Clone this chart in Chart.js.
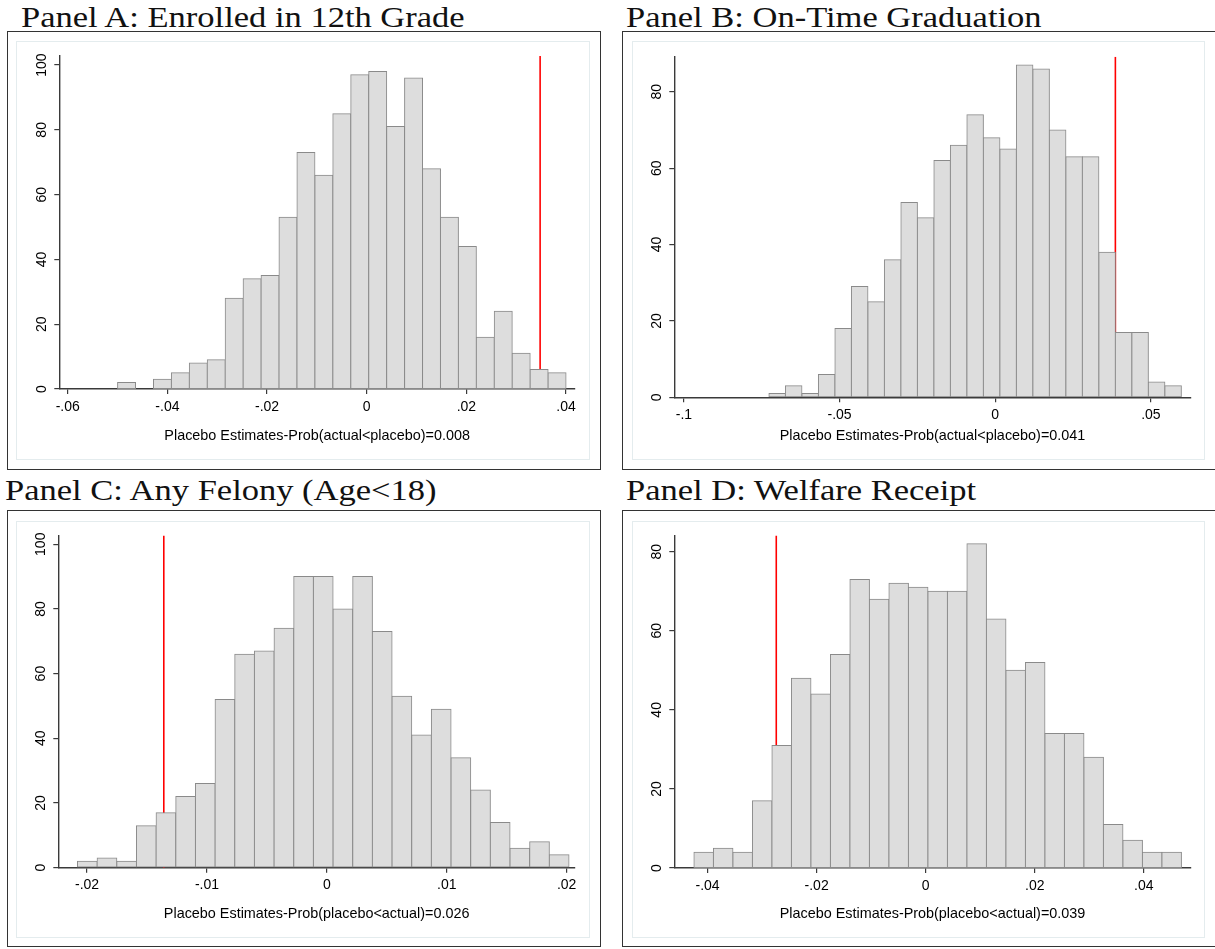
<!DOCTYPE html>
<html>
<head>
<meta charset="utf-8">
<script src="https://cdn.jsdelivr.net/npm/chart.js@4.4.1/dist/chart.umd.min.js"></script>
<style>
  html, body { margin: 0; padding: 0; background: #fff; }
  body { width: 1215px; height: 949px; position: relative; overflow: hidden; }
  .panel-title {
    position: absolute;
    font-family: 'Liberation Serif', 'Times New Roman', serif;
    font-size: 30px;
    line-height: 30px;
    color: #111;
    white-space: nowrap;
    transform: scaleX(1.15);
    transform-origin: 0 0;
  }
  .frame { position: absolute; box-sizing: border-box; border: 1.5px solid #333; }
  .inner { position: absolute; box-sizing: border-box; border: 1px solid #e4ecee; }
  canvas { position: absolute; }
</style>
</head>
<body>
  <!-- Panel frames and titles -->
  <div class="panel-title" style="left:21px; top:2px;">Panel A: Enrolled in 12th Grade</div>
  <div class="frame" style="left:7px; top:31px; width:594px; height:439px;"></div>
  <div class="inner" style="left:16px; top:41px; width:574px; height:419px;"></div>
  <canvas id="histA" width="573" height="417" style="left:17px; top:42px;"></canvas>

  <div class="panel-title" style="left:626px; top:2px;">Panel B: On-Time Graduation</div>
  <div class="frame" style="left:622px; top:31px; width:610px; height:439px;"></div>
  <div class="inner" style="left:632px; top:41px; width:573px; height:419px;"></div>
  <canvas id="histB" width="571" height="418" style="left:633px; top:42px;"></canvas>

  <div class="panel-title" style="left:5px; top:475px;">Panel C: Any Felony (Age&lt;18)</div>
  <div class="frame" style="left:7px; top:510px; width:594px; height:437px;"></div>
  <div class="inner" style="left:16px; top:521px; width:574px; height:417px;"></div>
  <canvas id="histC" width="573" height="415" style="left:17px; top:522px;"></canvas>

  <div class="panel-title" style="left:626px; top:475px;">Panel D: Welfare Receipt</div>
  <div class="frame" style="left:622px; top:510px; width:610px; height:437px;"></div>
  <div class="inner" style="left:632px; top:521px; width:573px; height:417px;"></div>
  <canvas id="histD" width="571" height="415" style="left:633px; top:522px;"></canvas>

<script>
// ---- Panel A: Enrolled in 12th Grade ----
const binStartA = -0.05;
const binWidthA = 0.0036;
const countsA = [2, 0, 3, 5, 8, 9, 28, 34, 35, 53, 73, 66, 85, 97, 98, 81, 96, 68, 53, 44, 16, 24, 11, 6, 5];
const actualA = 0.0348;
const xTicksA = [-0.06, -0.04, -0.02, 0, 0.02, 0.04];
const xTickLabelsA = ['-.06', '-.04', '-.02', '0', '.02', '.04'];
const yTicksA = [0, 20, 40, 60, 80, 100];
const yTickLabelsA = ['0', '20', '40', '60', '80', '100'];
const xRangeA = [-0.0617, 0.0418];
const yMaxA = 102.8;
const xTitleA = 'Placebo Estimates-Prob(actual<placebo)=0.008';

// ---- Panel B: On-Time Graduation ----
const binStartB = -0.0727;
const binWidthB = 0.0053;
const countsB = [1, 3, 1, 6, 18, 29, 25, 36, 51, 47, 62, 66, 74, 68, 65, 87, 86, 70, 63, 63, 38, 17, 17, 4, 3];
const actualB = 0.0386;
const xTicksB = [-0.1, -0.05, 0, 0.05];
const xTickLabelsB = ['-.1', '-.05', '0', '.05'];
const yTicksB = [0, 20, 40, 60, 80];
const yTickLabelsB = ['0', '20', '40', '60', '80'];
const xRangeB = [-0.1031, 0.0628];
const yMaxB = 89.2;
const xTitleB = 'Placebo Estimates-Prob(actual<placebo)=0.041';

// ---- Panel C: Any Felony (Age<18) ----
const binStartC = -0.0208;
const binWidthC = 0.00164;
const countsC = [2, 3, 2, 13, 17, 22, 26, 52, 66, 67, 74, 90, 90, 80, 90, 73, 53, 41, 49, 34, 24, 14, 6, 8, 4];
const actualC = -0.0136;
const xTicksC = [-0.02, -0.01, 0, 0.01, 0.02];
const xTickLabelsC = ['-.02', '-.01', '0', '.01', '.02'];
const yTicksC = [0, 20, 40, 60, 80, 100];
const yTickLabelsC = ['0', '20', '40', '60', '80', '100'];
const xRangeC = [-0.0224, 0.0207];
const yMaxC = 102.7;
const xTitleC = 'Placebo Estimates-Prob(placebo<actual)=0.026';

// ---- Panel D: Welfare Receipt ----
const binStartD = -0.0425;
const binWidthD = 0.003576;
const countsD = [4, 5, 4, 17, 31, 48, 44, 54, 73, 68, 72, 71, 70, 70, 82, 63, 50, 52, 34, 34, 28, 11, 7, 4, 4];
const actualD = -0.0274;
const xTicksD = [-0.04, -0.02, 0, 0.02, 0.04];
const xTickLabelsD = ['-.04', '-.02', '0', '.02', '.04'];
const yTicksD = [0, 20, 40, 60, 80];
const yTickLabelsD = ['0', '20', '40', '60', '80'];
const xRangeD = [-0.0461, 0.0486];
const yMaxD = 84.1;
const xTitleD = 'Placebo Estimates-Prob(placebo<actual)=0.039';

const AXIS_COLOR = '#3a3a3a';
const TICK_FONT = { family: "'Liberation Sans', Arial, sans-serif", size: 14 };
const TITLE_FONT = { family: "'Liberation Sans', Arial, sans-serif", size: 14.4 };

// Stata-like histogram: bars + red vertical line for the actual estimate (drawn behind bars)
function drawHistogram(canvasId, p, box) {
  const bars = p.counts.map((c, i) => ({ x: p.binStart + (i + 0.5) * p.binWidth, y: c }));

  return new Chart(document.getElementById(canvasId), {
    type: 'bar',
    data: {
      datasets: [
        {
          type: 'line',
          data: [{ x: p.actual, y: 0 }, { x: p.actual, y: p.yMax }],
          borderColor: '#ff0000',
          borderWidth: 1.6,
          pointRadius: 0,
          fill: false,
          order: 2
        },
        {
          type: 'bar',
          data: bars,
          backgroundColor: '#dddddd',
          borderColor: '#8a8a8a',
          borderWidth: 1,
          borderSkipped: false,
          inflateAmount: 0.5,
          barPercentage: 1,
          categoryPercentage: 1,
          order: 1
        }
      ]
    },
    options: {
      responsive: false,
      animation: false,
      devicePixelRatio: 1,
      layout: { padding: { top: box.padTop, right: box.padRight, left: 0, bottom: 0 } },
      plugins: { legend: { display: false }, tooltip: { enabled: false } },
      scales: {
        x: {
          type: 'linear',
          min: p.xRange[0],
          max: p.xRange[1],
          offset: false,
          grid: { offset: false, drawOnChartArea: false, drawTicks: true, tickLength: 5, color: AXIS_COLOR, lineWidth: 1.2 },
          border: { display: true, color: AXIS_COLOR, width: 1.4 },
          ticks: {
            font: TICK_FONT,
            color: '#000',
            padding: 4.4,
            maxRotation: 0,
            autoSkip: false,
            callback: (v) => {
              const i = p.xTicks.indexOf(v);
              return i >= 0 ? p.xTickLabels[i] : '';
            }
          },
          title: { display: true, text: p.xTitle, font: TITLE_FONT, color: '#000', padding: { top: 0, bottom: box.titlePad } },
          afterBuildTicks: (s) => { s.ticks = p.xTicks.map((v) => ({ value: v })); },
          afterFit: (s) => { s.height = box.xAxisHeight; }
        },
        y: {
          type: 'linear',
          min: 0,
          max: p.yMax,
          grid: { drawOnChartArea: false, drawTicks: true, tickLength: 5, color: AXIS_COLOR, lineWidth: 1.2 },
          border: { display: true, color: AXIS_COLOR, width: 1.4 },
          ticks: {
            font: TICK_FONT,
            color: '#000',
            minRotation: 90,
            maxRotation: 90,
            crossAlign: 'center',
            padding: box.yLabelPad,
            autoSkip: false,
            callback: (v) => {
              const i = p.yTicks.indexOf(v);
              return i >= 0 ? p.yTickLabels[i] : '';
            }
          },
          afterBuildTicks: (s) => { s.ticks = p.yTicks.map((v) => ({ value: v })); },
          afterFit: (s) => { s.width = box.yAxisWidth; }
        }
      }
    }
  });
}

drawHistogram('histA', {
  binStart: binStartA, binWidth: binWidthA, counts: countsA, actual: actualA,
  xTicks: xTicksA, xTickLabels: xTickLabelsA, yTicks: yTicksA, yTickLabels: yTickLabelsA,
  xRange: xRangeA, yMax: yMaxA, xTitle: xTitleA
}, { yAxisWidth: 42.3, xAxisHeight: 70, padTop: 14, padRight: 15, titlePad: 14.4, yLabelPad: 0 });

drawHistogram('histB', {
  binStart: binStartB, binWidth: binWidthB, counts: countsB, actual: actualB,
  xTicks: xTicksB, xTickLabels: xTickLabelsB, yTicks: yTicksB, yTickLabels: yTickLabelsB,
  xRange: xRangeB, yMax: yMaxB, xTitle: xTitleB
}, { yAxisWidth: 41.3, xAxisHeight: 62.7, padTop: 14.7, padRight: 13.3, titlePad: 15.7, yLabelPad: 4.8 });

drawHistogram('histC', {
  binStart: binStartC, binWidth: binWidthC, counts: countsC, actual: actualC,
  xTicks: xTicksC, xTickLabels: xTickLabelsC, yTicks: yTicksC, yTickLabels: yTickLabelsC,
  xRange: xRangeC, yMax: yMaxC, xTitle: xTitleC
}, { yAxisWidth: 41.3, xAxisHeight: 69.3, padTop: 13.5, padRight: 15, titlePad: 14.4, yLabelPad: 0 });

drawHistogram('histD', {
  binStart: binStartD, binWidth: binWidthD, counts: countsD, actual: actualD,
  xTicks: xTicksD, xTickLabels: xTickLabelsD, yTicks: yTicksD, yTickLabels: yTickLabelsD,
  xRange: xRangeD, yMax: yMaxD, xTitle: xTitleD
}, { yAxisWidth: 41.3, xAxisHeight: 69, padTop: 13.5, padRight: 13.3, titlePad: 14.4, yLabelPad: 4.8 });
</script>
</body>
</html>
